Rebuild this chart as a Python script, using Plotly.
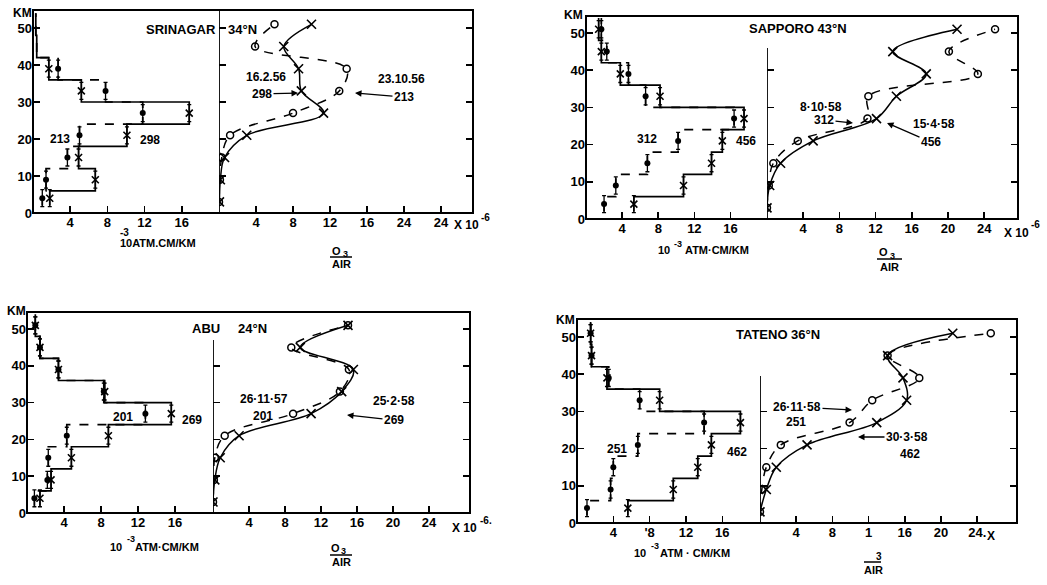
import plotly.graph_objects as go

W, H = 1047, 585

# ---------------- data ----------------
layer_edges = [2, 6, 12, 18, 24, 30, 36, 42, 48, 54]      # km, layer boundaries
layer_mid = [4, 9, 15, 21, 27, 33, 39, 45, 51]             # km, marker heights
profile_km = [3, 9, 15, 21, 27, 33, 39, 45, 51]            # km, mixing ratio levels
y_tickvals = [0, 10, 20, 30, 40, 50]
y_ticktext = ["0", "10", "20", "30", "40", "50"]
left_xtickvals = [4, 8, 12, 16]
right_xtickvals = [4, 8, 12, 16, 20, 24]
frame_ticks = [10, 20, 30, 40, 50]

# Srinagar 34N : solid = 16.2.56 (298), dashed = 23.10.56 (213)
sri_hist_solid = [1.8, 6.7, 4.9, 10.1, 16.8, 5.2, 1.7, 0.4, 0.3]
sri_hist_dash = [1.0, 1.4, 3.7, 5.0, 11.8, 7.8, 2.7, 0.4, 0.3]
sri_mix_solid = [0.05, 0.15, 0.6, 3.0, 11.3, 8.9, 8.6, 7.0, 10.0]
sri_mix_dash = [0.0, 0.1, 0.3, 1.2, 8.0, 13.0, 13.8, 3.9, 6.0]
sri_left_ticktext = ["4", "8", "12", "16"]
sri_right_ticktext = ["4", "8", "12", "16", "24", "24"]

# Sapporo 43N : solid = 15.4.58 (456), dashed = 8.10.58 (312)
sap_hist_solid = [5.3, 10.8, 13.9, 15.1, 17.5, 8.2, 3.8, 1.7, 1.4]
sap_hist_dash = [2.0, 3.3, 6.8, 10.2, 16.4, 6.6, 4.7, 2.3, 1.7]
sap_mix_solid = [0.0, 0.3, 1.5, 5.1, 12.1, 14.3, 17.6, 13.9, 21.0]
sap_mix_dash = [0.0, 0.2, 0.7, 3.4, 11.1, 11.2, 23.3, 20.1, 25.2]
sap_left_ticktext = ["4", "8", "12", "16"]
sap_right_ticktext = ["4", "8", "12", "16", "20", "24"]

# Abu 24N : solid = 25.2.58 (269), dashed = 26.11.57 (201)
abu_hist_solid = [1.4, 2.6, 4.8, 8.8, 15.6, 8.4, 3.4, 1.4, 0.9]
abu_hist_dash = [0.8, 2.2, 2.3, 4.3, 12.8, 8.3, 3.4, 1.4, 0.9]
abu_mix_solid = [0.0, 0.2, 0.8, 2.9, 10.9, 14.3, 15.6, 9.7, 15.0]
abu_mix_dash = [0.0, 0.1, 0.2, 1.3, 8.9, 14.1, 15.1, 8.7, 15.0]
abu_left_ticktext = ["4", "8", "12", "16"]
abu_right_ticktext = ["4", "8", "12", "16", "20", "24"]

# Tateno 36N : solid = 30.3.58 (462), dashed = 26.11.58 (251)
tat_hist_solid = [5.6, 10.6, 13.3, 14.8, 18.0, 9.1, 3.3, 1.6, 1.5]
tat_hist_dash = [1.1, 3.7, 4.0, 6.7, 14.0, 6.9, 3.5, 1.6, 1.5]
tat_mix_solid = [0.0, 0.7, 1.8, 5.2, 12.9, 16.2, 15.8, 14.1, 21.3]
tat_mix_dash = [0.0, 0.2, 0.7, 2.3, 9.9, 12.4, 17.6, 14.1, 25.5]
tat_left_ticktext = ["4", "'8", "12", "16"]
tat_right_ticktext = ["4", "8", "1", "16", "20", "24."]

stations = [
    dict(hs=sri_hist_solid, hd=sri_hist_dash, ms=sri_mix_solid, md=sri_mix_dash,
         n_marked=7, ltt=sri_left_ticktext, rtt=sri_right_ticktext,
         g=dict(L=33, D=219, R=473, T=10, B=213, lppu=9.3, rppu=9.25, ppk=3.7,
                div_top=None, div_ticks=[10, 20, 30, 40, 50])),
    dict(hs=sap_hist_solid, hd=sap_hist_dash, ms=sap_mix_solid, md=sap_mix_dash,
         n_marked=9, ltt=sap_left_ticktext, rtt=sap_right_ticktext,
         g=dict(L=586, D=767, R=1018, T=16, B=219, lppu=9.03, rppu=9.05, ppk=3.72,
                div_top=46, div_ticks=[10, 20, 30, 40])),
    dict(hs=abu_hist_solid, hd=abu_hist_dash, ms=abu_mix_solid, md=abu_mix_dash,
         n_marked=9, ltt=abu_left_ticktext, rtt=abu_right_ticktext,
         g=dict(L=27, D=213, R=470, T=312, B=513, lppu=9.25, rppu=9.0, ppk=3.68,
                div_top=47, div_ticks=[10, 20, 30, 40])),
    dict(hs=tat_hist_solid, hd=tat_hist_dash, ms=tat_mix_solid, md=tat_mix_dash,
         n_marked=9, ltt=tat_left_ticktext, rtt=tat_right_ticktext,
         g=dict(L=577, D=760, R=1017, T=319, B=523, lppu=9.08, rppu=9.05, ppk=3.72,
                div_top=39.5, div_ticks=[10, 20, 30])),
]

FONT = "Liberation Sans"
fig = go.Figure()
layout = {}
shapes = []
ann = []


def aname(n, c):
    return f"{c}axis" if n == 1 else f"{c}axis{n}"


def aref(n, c):
    return c if n == 1 else f"{c}{n}"


tick_common = dict(ticks="inside", ticklen=7, tickwidth=1.5, tickcolor="black",
                   showgrid=False, zeroline=False, showline=False, fixedrange=True,
                   automargin=False,
                   tickfont=dict(family=FONT, size=13, color="black", weight="bold"))

err = dict(type="constant", value=2.3, width=2, thickness=1.3, color="black")

for i, s in enumerate(stations):
    g = s["g"]
    xl, xr = 2 * i + 1, 2 * i + 2
    yl, yr, yo = 3 * i + 1, 3 * i + 2, 3 * i + 3
    ytop = (g["B"] - g["T"]) / g["ppk"]
    dom_y = [1 - g["B"] / H, 1 - g["T"] / H]
    layout[aname(xl, "x")] = dict(domain=[g["L"] / W, g["D"] / W],
                                  range=[0, (g["D"] - g["L"]) / g["lppu"]],
                                  anchor=aref(yl, "y"), tickvals=left_xtickvals,
                                  ticktext=s["ltt"], **tick_common)
    layout[aname(yl, "y")] = dict(domain=dom_y, range=[0, ytop], anchor=aref(xl, "x"),
                                  tickvals=y_tickvals, ticktext=y_ticktext, **tick_common)
    layout[aname(xr, "x")] = dict(domain=[g["D"] / W, g["R"] / W],
                                  range=[0, (g["R"] - g["D"]) / g["rppu"]],
                                  anchor=aref(yr, "y"), tickvals=right_xtickvals,
                                  ticktext=s["rtt"], **tick_common)
    layout[aname(yr, "y")] = dict(domain=dom_y, range=[0, ytop], anchor=aref(xr, "x"),
                                  tickvals=g["div_ticks"], showticklabels=False, **tick_common)
    layout[aname(yo, "y")] = dict(overlaying=aref(yr, "y"), side="right", range=[0, ytop],
                                  anchor=aref(xr, "x"), tickvals=frame_ticks,
                                  showticklabels=False, **tick_common)

    XL, YL, XR, YR, YO = aref(xl, "x"), aref(yl, "y"), aref(xr, "x"), aref(yr, "y"), aref(yo, "y")

    # step histograms
    fig.add_trace(go.Scatter(x=s["hs"] + [s["hs"][-1]], y=layer_edges, mode="lines",
                             line=dict(color="black", width=1.7, shape="vh"),
                             xaxis=XL, yaxis=YL, showlegend=False, hoverinfo="skip"))
    fig.add_trace(go.Scatter(x=s["hd"] + [s["hd"][-1]], y=layer_edges, mode="lines",
                             line=dict(color="black", width=1.7, shape="vh", dash="dash"),
                             xaxis=XL, yaxis=YL, showlegend=False, hoverinfo="skip"))
    n = s["n_marked"]
    fig.add_trace(go.Scatter(x=s["hs"][:n], y=layer_mid[:n], mode="markers",
                             marker=dict(symbol="x-thin-open", size=7, color="black",
                                         line=dict(width=1.6, color="black")),
                             error_y=err, xaxis=XL, yaxis=YL, showlegend=False, hoverinfo="skip"))
    fig.add_trace(go.Scatter(x=s["hd"][:n], y=layer_mid[:n], mode="markers",
                             marker=dict(symbol="circle", size=6, color="black"),
                             error_y=err, xaxis=XL, yaxis=YL, showlegend=False, hoverinfo="skip"))

    # mixing ratio profiles
    fig.add_trace(go.Scatter(x=s["ms"], y=profile_km, mode="lines+markers",
                             line=dict(color="black", width=1.5, shape="spline", smoothing=1.0),
                             marker=dict(symbol="x-thin-open", size=9, color="black",
                                         line=dict(width=1.6, color="black")),
                             xaxis=XR, yaxis=YR, showlegend=False, hoverinfo="skip"))
    fig.add_trace(go.Scatter(x=s["md"], y=profile_km, mode="lines+markers",
                             line=dict(color="black", width=1.5, shape="spline", smoothing=1.0,
                                       dash="dash"),
                             marker=dict(symbol="circle-open", size=7, color="black",
                                         line=dict(width=1.5, color="black")),
                             xaxis=XR, yaxis=YO, showlegend=False, hoverinfo="skip"))

    # frame and divider
    shapes.append(dict(type="rect", xref="paper", yref="paper",
                       x0=g["L"] / W, x1=g["R"] / W, y0=1 - g["B"] / H, y1=1 - g["T"] / H,
                       line=dict(color="black", width=2)))
    dtop = ytop if g["div_top"] is None else g["div_top"]
    shapes.append(dict(type="line", xref=XR, yref=YR, x0=0, x1=0, y0=0, y1=dtop,
                       line=dict(color="black", width=1.8)))


def txt(text, px, py, size=12, xanchor="center"):
    ann.append(dict(text=text, x=px / W, y=1 - py / H, xref="paper", yref="paper",
                    showarrow=False, xanchor=xanchor, yanchor="middle",
                    font=dict(family=FONT, size=size, color="black", weight="bold")))


def arrow(text, tip_x, tip_y, tail_x, tail_y, size=12):
    ann.append(dict(text=text, x=tip_x / W, y=1 - tip_y / H, xref="paper", yref="paper",
                    showarrow=True, ax=tail_x - tip_x, ay=tail_y - tip_y,
                    arrowhead=2, arrowsize=1, arrowwidth=1.3, arrowcolor="black",
                    font=dict(family=FONT, size=size, color="black", weight="bold")))


def bar(x0, x1, y):
    shapes.append(dict(type="line", xref="paper", yref="paper",
                       x0=x0 / W, x1=x1 / W, y0=1 - y / H, y1=1 - y / H,
                       line=dict(color="black", width=1.5)))


# ---- Srinagar texts ----
txt("SRINAGAR", 218, 29, 13, "right")
txt("34°N", 226, 29, 13, "left")
txt("16.2.56", 266, 77)
arrow("298", 298, 93, 262, 94)
txt("23.10.56", 401, 79)
arrow("213", 355, 93, 404, 97)
txt("213", 60, 139)
txt("298", 150, 140)
txt("-3", 124, 233, 10)
txt("10ATM.CM/KM", 158, 243, 11)
txt("O", 336, 251, 11)
txt("3", 345, 254, 9)
bar(330, 352, 257)
txt("AIR", 341, 264, 11)
txt("X 10", 452, 225, 12, "left")
txt("-6", 479, 217, 10, "left")
txt("KM", 22, 13)

# ---- Sapporo texts ----
txt("SAPPORO 43°N", 798, 28, 13)
txt("8·10·58", 821, 107)
arrow("312", 853, 123, 824, 120)
txt("15·4·58", 934, 124)
arrow("456", 887, 123, 931, 142)
txt("312", 647, 139)
txt("456", 746, 141)
txt("10", 672, 250, 11, "right")
txt("-3", 672, 244, 9, "left")
txt("ATM·CM/KM", 683, 250, 11, "left")
txt("O", 883, 252, 11)
txt("3", 892, 256, 9)
bar(877, 902, 259)
txt("AIR", 889, 267, 11)
txt("X 10", 1002, 233, 12, "left")
txt("-6", 1029, 225, 10, "left")
txt("KM", 573, 15)

# ---- Abu texts ----
txt("ABU", 206, 328, 13)
txt("24°N", 252, 328, 13)
txt("26·11·57", 264, 399)
txt("201", 263, 416)
txt("25·2·58", 394, 401)
arrow("269", 347, 415, 394, 420)
txt("201", 123, 417)
txt("269", 192, 420)
txt("10", 124, 547, 11, "right")
txt("-3", 125, 539, 9, "left")
txt("ATM·CM/KM", 133, 547, 11, "left")
txt("O", 335, 548, 11)
txt("3", 344, 551, 9)
bar(330, 352, 555)
txt("AIR", 341, 562, 11)
txt("X 10", 450, 528, 12, "left")
txt("-6.", 478, 520, 10, "left")
txt("KM", 16, 311)

# ---- Tateno texts ----
txt("TATENO 36°N", 778, 334, 13)
arrow("26·11·58", 852, 410, 797, 407)
txt("251", 796, 422)
arrow("30·3·58", 858, 437, 907, 437)
txt("462", 910, 454)
txt("251", 617, 449)
txt("462", 737, 452)
txt("10", 648, 553, 11, "right")
txt("-3", 649, 546, 9, "left")
txt("ATM · CM/KM", 658, 553, 11, "left")
txt("3", 879, 556, 10)
bar(864, 881, 562)
txt("AIR", 873, 570, 11)
txt("X", 985, 536, 12, "left")
txt("KM", 565, 320)

fig.update_layout(**layout)
fig.update_layout(width=W, height=H, autosize=False,
                  margin=dict(l=0, r=0, t=0, b=0, pad=0),
                  paper_bgcolor="white", plot_bgcolor="white",
                  font=dict(family=FONT, size=12, color="black", weight="bold"),
                  shapes=shapes, annotations=ann, showlegend=False)

fig.write_html("out.html", config={"displayModeBar": False, "staticPlot": True},
               post_script="document.body.style.margin='0';document.body.style.padding='0';")
